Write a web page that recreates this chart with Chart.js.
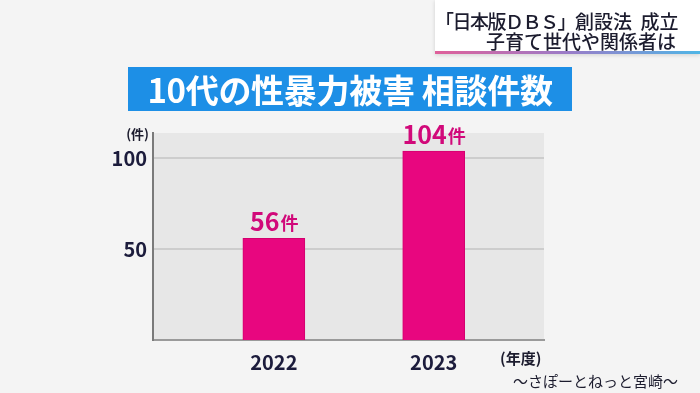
<!DOCTYPE html>
<html lang="ja">
<head>
<meta charset="utf-8"/>
<title>10代の性暴力被害 相談件数</title>
<script src="https://cdn.jsdelivr.net/npm/chart.js"></script>
<style>
  body {
    margin: 0;
    width: 700px;
    height: 393px;
    overflow: hidden;
    background: #f4f4f4;
    font-family: "Noto Sans CJK JP", "Noto Sans", sans-serif;
    position: relative;
  }
  #grafik {
    position: absolute;
    left: 0;
    top: 0;
  }
  .baslik {
    position: absolute;
    left: 128px;
    top: 67px;
    width: 444px;
    height: 44px;
    line-height: 44px;
    background: #1d8fe6;
    color: #fff;
    font-size: 33px;
    font-weight: 700;
    text-align: center;
    letter-spacing: -0.3px;
    white-space: nowrap;
  }
  .haber {
    position: absolute;
    left: 435px;
    top: 0;
    width: 265px;
    height: 54px;
    background: #fff;
    box-shadow: 0 1px 4px rgba(0,0,0,0.15);
    border-bottom: 3px solid;
    border-image: linear-gradient(to right, #e0609a, #9a7cc8, #4fb6e6) 1;
    text-align: right;
    color: #1c1c2e;
    font-size: 19px;
    font-weight: 500;
    line-height: 20px;
    box-sizing: border-box;
    padding: 11px 24px 0 0;
    white-space: nowrap;
  }
  .haber span { letter-spacing: -1.5px; }
  .kaynak {
    position: absolute;
    left: 513px;
    top: 370px;
    font-size: 15px;
    color: #1c1c2e;
    white-space: nowrap;
  }
</style>
</head>
<body>
<canvas id="grafik" width="700" height="393"></canvas>
<div class="haber"><span>「日本版ＤＢＳ」</span>創設法&nbsp;&nbsp;成立<br>子育て世代や関係者は</div>
<div class="baslik">10代の性暴力被害 相談件数</div>
<div class="kaynak">～さぽーとねっと宮崎～</div>
<script>
  const yillar = [2022, 2023];
  const sayilar = [56, 104];
  const yEtiketleri = [50, 100];
  const birim = '件';

  // plot area background
  const arkaPlan = {
    id: 'arkaPlan',
    beforeDraw(chart) {
      const { ctx, chartArea: a } = chart;
      ctx.save();
      ctx.fillStyle = '#e7e7e7';
      ctx.fillRect(a.left, a.top, a.right - a.left, a.bottom - a.top);
      ctx.restore();
    }
  };

  // labels above bars + unit labels
  const etiketler = {
    id: 'etiketler',
    afterDatasetsDraw(chart) {
      const { ctx, chartArea: a } = chart;
      const meta = chart.getDatasetMeta(0);
      ctx.save();
      ctx.textBaseline = 'alphabetic';
      meta.data.forEach((bar, i) => {
        const sayi = String(sayilar[i]);
        ctx.font = '700 25px "Noto Sans CJK JP"';
        const w1 = ctx.measureText(sayi).width;
        ctx.font = '700 18px "Noto Sans CJK JP"';
        const w2 = ctx.measureText(birim).width;
        const x0 = bar.x - (w1 + w2) / 2;
        const yb = bar.y - 7;
        ctx.fillStyle = '#d1097a';
        ctx.textAlign = 'left';
        ctx.font = '700 25px "Noto Sans CJK JP"';
        ctx.fillText(sayi, x0, yb);
        ctx.font = '700 18px "Noto Sans CJK JP"';
        ctx.fillText(birim, x0 + w1 + 1, yb - 1);
      });
      ctx.fillStyle = '#1c1c2e';
      ctx.font = '700 13px "Noto Sans CJK JP"';
      ctx.textAlign = 'right';
      ctx.fillText('(件)', a.left - 4, a.top + 6);
      ctx.font = '700 15px "Noto Sans CJK JP"';
      ctx.textAlign = 'left';
      ctx.fillText('(年度)', a.right - 44, a.bottom + 24);
      ctx.restore();
    }
  };

  new Chart(document.getElementById('grafik'), {
    type: 'bar',
    data: {
      datasets: [{
        data: yillar.map((y, i) => ({ x: y, y: sayilar[i] })),
        backgroundColor: '#e8067f',
        borderColor: '#d4006f',
        borderWidth: 1,
        barThickness: 62
      }]
    },
    options: {
      responsive: false,
      animation: false,
      devicePixelRatio: 1,
      layout: { padding: { left: 0, top: 133, right: 156, bottom: 13 } },
      plugins: { legend: { display: false }, tooltip: { enabled: false } },
      scales: {
        x: {
          type: 'linear',
          min: 2021.244,
          max: 2023.69,
          offset: false,
          afterBuildTicks: s => { s.ticks = yillar.map(v => ({ value: v })); },
          afterFit: s => { s.height = 40; },
          grid: { display: false, offset: false },
          border: { display: true, color: '#9a9a9a', width: 2 },
          ticks: {
            padding: 2,
            color: '#1c1c3c',
            font: { family: '"Noto Sans CJK JP"', size: 20, weight: '700' },
            callback: v => String(v)
          }
        },
        y: {
          min: 0,
          max: 114,
          afterBuildTicks: s => { s.ticks = yEtiketleri.map(v => ({ value: v })); },
          afterFit: s => { s.width = 153; },
          grid: { color: '#cdcdcd', lineWidth: 2, drawTicks: false },
          border: { display: true, color: '#7a7a7a', width: 2 },
          ticks: {
            padding: 6,
            color: '#1c1c3c',
            font: { family: '"Noto Sans CJK JP"', size: 20, weight: '700' }
          }
        }
      }
    },
    plugins: [arkaPlan, etiketler]
  });
</script>
</body>
</html>
